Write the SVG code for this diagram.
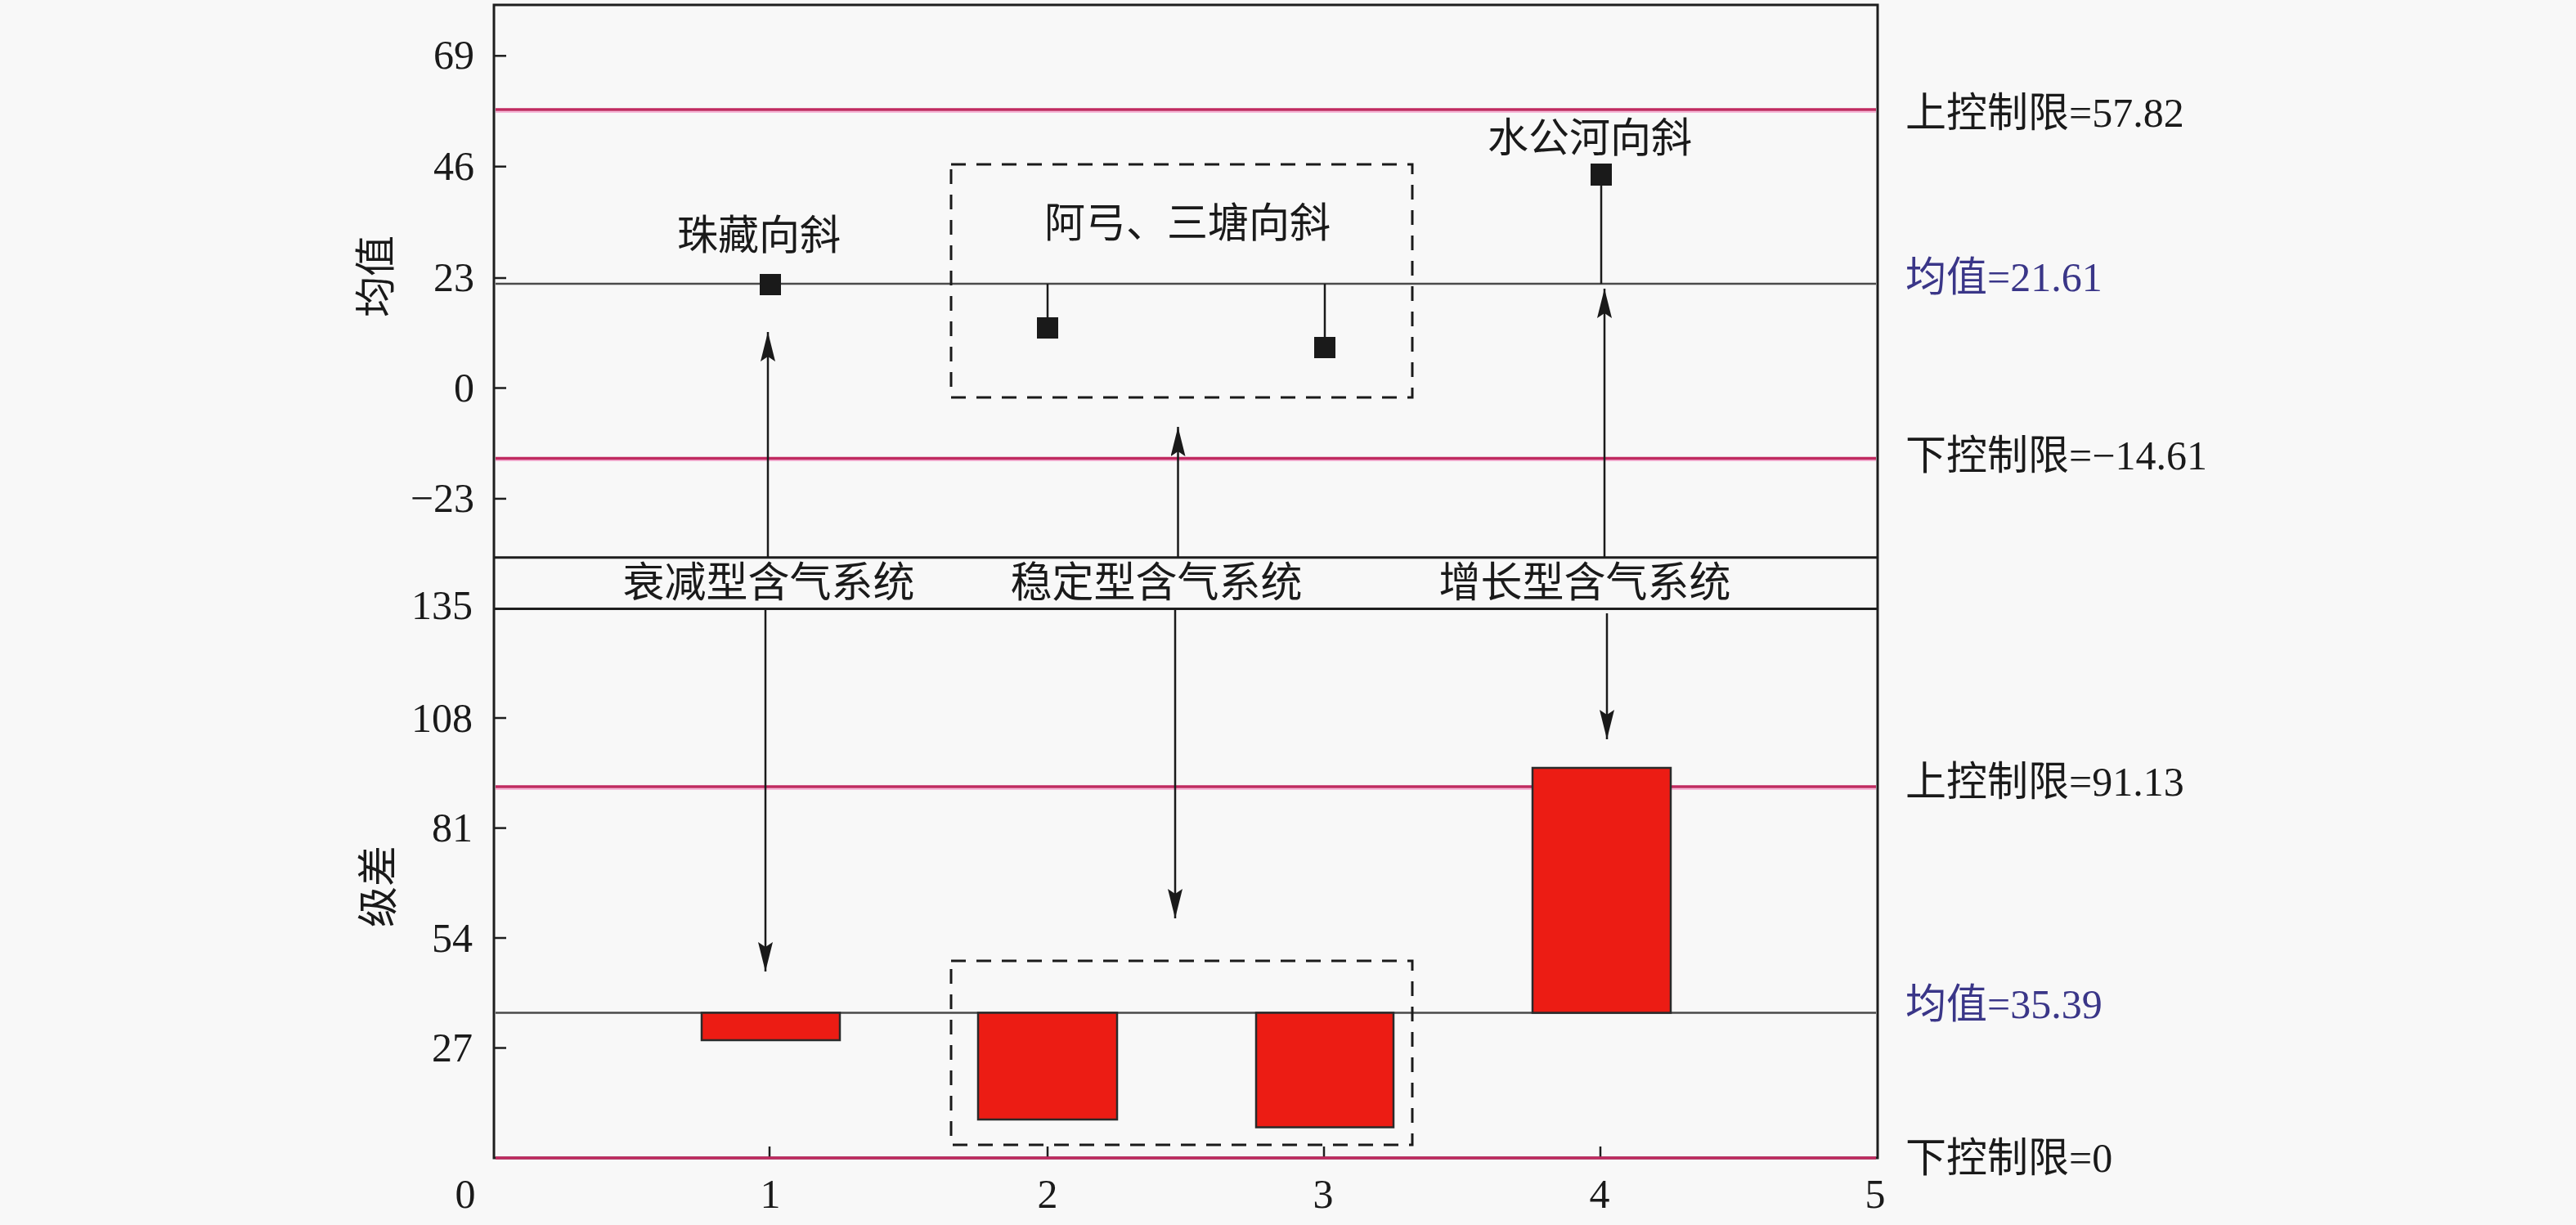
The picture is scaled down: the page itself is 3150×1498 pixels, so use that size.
<svg xmlns="http://www.w3.org/2000/svg" width="3150" height="1498" viewBox="0 0 3150 1498">
<defs>
<style>
.t{font-family:"Liberation Serif","Noto Sans CJK SC",serif;font-size:50px;fill:#1a1a1a}
.tick{text-anchor:end}
.xl{text-anchor:middle}
.cat{font-family:"Liberation Serif","Noto Sans CJK SC",serif;font-size:51px;fill:#1a1a1a;text-anchor:middle}
.mean{fill:#3a3688}
.frame{stroke:#1e1e1e;stroke-width:3;fill:none}
.tk{stroke:#1e1e1e;stroke-width:2.5}
.ctl{stroke:#c02a60;stroke-width:3.5}
.glow{stroke:#f6b8d8;stroke-width:2}
.mline{stroke:#4a4a4a;stroke-width:2.5}
.dash{fill:none;stroke:#1a1a1a;stroke-width:3;stroke-dasharray:18 13}
.bar{fill:#ec1c14;stroke:#2a2a2a;stroke-width:2.5}
.mk{fill:#1a1a1a}
.stem{stroke:#1a1a1a;stroke-width:2.5}
.arr{stroke:#1a1a1a;stroke-width:2.5;marker-end:url(#ah)}
</style>
<marker id="ah" viewBox="0 0 36 18" refX="36" refY="9" markerWidth="36" markerHeight="18" markerUnits="userSpaceOnUse" orient="auto">
<path d="M0,0 L36,9 L0,18 L6,9 Z" fill="#1a1a1a"/>
</marker>
</defs>
<rect width="3150" height="1498" fill="#f8f8f8"/>

<g id="upper-panel">
<line class="glow" x1="606" y1="137" x2="2294" y2="137"/>
<line class="ctl" x1="606" y1="134" x2="2294" y2="134"/>
<line class="glow" x1="606" y1="563" x2="2294" y2="563"/>
<line class="ctl" x1="606" y1="560.5" x2="2294" y2="560.5"/>
<line class="mline" x1="606" y1="347" x2="2294" y2="347"/>
<line class="tk" x1="604" y1="68.3" x2="619" y2="68.3"/>
<line class="tk" x1="604" y1="203.7" x2="619" y2="203.7"/>
<line class="tk" x1="604" y1="340" x2="619" y2="340"/>
<line class="tk" x1="604" y1="474.5" x2="619" y2="474.5"/>
<line class="tk" x1="604" y1="609.9" x2="619" y2="609.9"/>
<text class="t tick" x="580" y="84">69</text>
<text class="t tick" x="580" y="220">46</text>
<text class="t tick" x="580" y="356">23</text>
<text class="t tick" x="580" y="491">0</text>
<text class="t tick" x="580" y="626">−23</text>
<text class="t" x="0" y="0" text-anchor="middle" transform="translate(477,338) rotate(-90)">均值</text>
<text class="t" x="2330" y="155">上控制限=57.82</text>
<text class="t mean" x="2330" y="356">均值=21.61</text>
<text class="t" x="2330" y="574">下控制限=−14.61</text>
</g>

<g id="lower-panel">
<line class="glow" x1="606" y1="965" x2="2294" y2="965"/>
<line class="ctl" x1="606" y1="962" x2="2294" y2="962"/>
<line class="mline" x1="606" y1="1238.5" x2="2294" y2="1238.5"/>
<line class="tk" x1="604" y1="878" x2="619" y2="878"/>
<line class="tk" x1="604" y1="1012.6" x2="619" y2="1012.6"/>
<line class="tk" x1="604" y1="1147" x2="619" y2="1147"/>
<line class="tk" x1="604" y1="1281.5" x2="619" y2="1281.5"/>
<line class="tk" x1="941" y1="1416" x2="941" y2="1402"/>
<line class="tk" x1="1281" y1="1416" x2="1281" y2="1402"/>
<line class="tk" x1="1619" y1="1416" x2="1619" y2="1402"/>
<line class="tk" x1="1957" y1="1416" x2="1957" y2="1402"/>
<text class="t tick" x="578" y="757">135</text>
<text class="t tick" x="578" y="895">108</text>
<text class="t tick" x="578" y="1029">81</text>
<text class="t tick" x="578" y="1164">54</text>
<text class="t tick" x="578" y="1298">27</text>
<text class="t xl" x="569" y="1477">0</text>
<text class="t xl" x="942" y="1477">1</text>
<text class="t xl" x="1281" y="1477">2</text>
<text class="t xl" x="1618" y="1477">3</text>
<text class="t xl" x="1956" y="1477">4</text>
<text class="t xl" x="2293" y="1477">5</text>
<text class="t" x="0" y="0" text-anchor="middle" transform="translate(480,1084) rotate(-90)">级差</text>
<text class="t" x="2330" y="973">上控制限=91.13</text>
<text class="t mean" x="2330" y="1245">均值=35.39</text>
<text class="t" x="2330" y="1433">下控制限=0</text>
</g>

<g id="frame">
<rect class="frame" x="604" y="6" width="1692" height="1410"/>
<line class="frame" x1="604" y1="681.7" x2="2296" y2="681.7"/>
<line class="frame" x1="604" y1="744.5" x2="2296" y2="744.5"/>
<line class="ctl" x1="606" y1="1416" x2="2294" y2="1416"/>
</g>

<g id="category-labels">
<text class="cat" x="940" y="730">衰减型含气系统</text>
<text class="cat" x="1414" y="730">稳定型含气系统</text>
<text class="cat" x="1938" y="730">增长型含气系统</text>
</g>

<g id="node-zhuzang">
<text class="t xl" x="928" y="305">珠藏向斜</text>
<rect class="mk" x="929" y="335" width="26" height="26"/>
</g>

<g id="node-agong-santang">
<rect class="dash" x="1163" y="201" width="564" height="285"/>
<text class="t xl" x="1452" y="290">阿弓、三塘向斜</text>
<line class="stem" x1="1281" y1="347" x2="1281" y2="390"/>
<rect class="mk" x="1268" y="388" width="26" height="26"/>
<line class="stem" x1="1620" y1="347" x2="1620" y2="414"/>
<rect class="mk" x="1607" y="412" width="26" height="26"/>
</g>

<g id="node-shuigonghe">
<text class="t xl" x="1944" y="186">水公河向斜</text>
<line class="stem" x1="1958" y1="226" x2="1958" y2="347"/>
<rect class="mk" x="1945" y="200" width="26" height="27"/>
</g>

<g id="bars">
<rect class="bar" x="858" y="1238.5" width="169" height="33.5"/>
<rect class="dash" x="1163" y="1175" width="564" height="225"/>
<rect class="bar" x="1196" y="1238.5" width="170" height="130.5"/>
<rect class="bar" x="1536" y="1238.5" width="168" height="140"/>
<rect class="bar" x="1874" y="939" width="169" height="299.5"/>
</g>

<g id="connectors">
<line class="arr" x1="939" y1="681" x2="939" y2="406"/>
<line class="arr" x1="1440.5" y1="681" x2="1440.5" y2="522"/>
<line class="arr" x1="1962" y1="681" x2="1962" y2="353"/>
<line class="arr" x1="936" y1="746" x2="936" y2="1188"/>
<line class="arr" x1="1437" y1="746" x2="1437" y2="1123"/>
<line class="arr" x1="1965" y1="750" x2="1965" y2="904"/>
</g>
</svg>
